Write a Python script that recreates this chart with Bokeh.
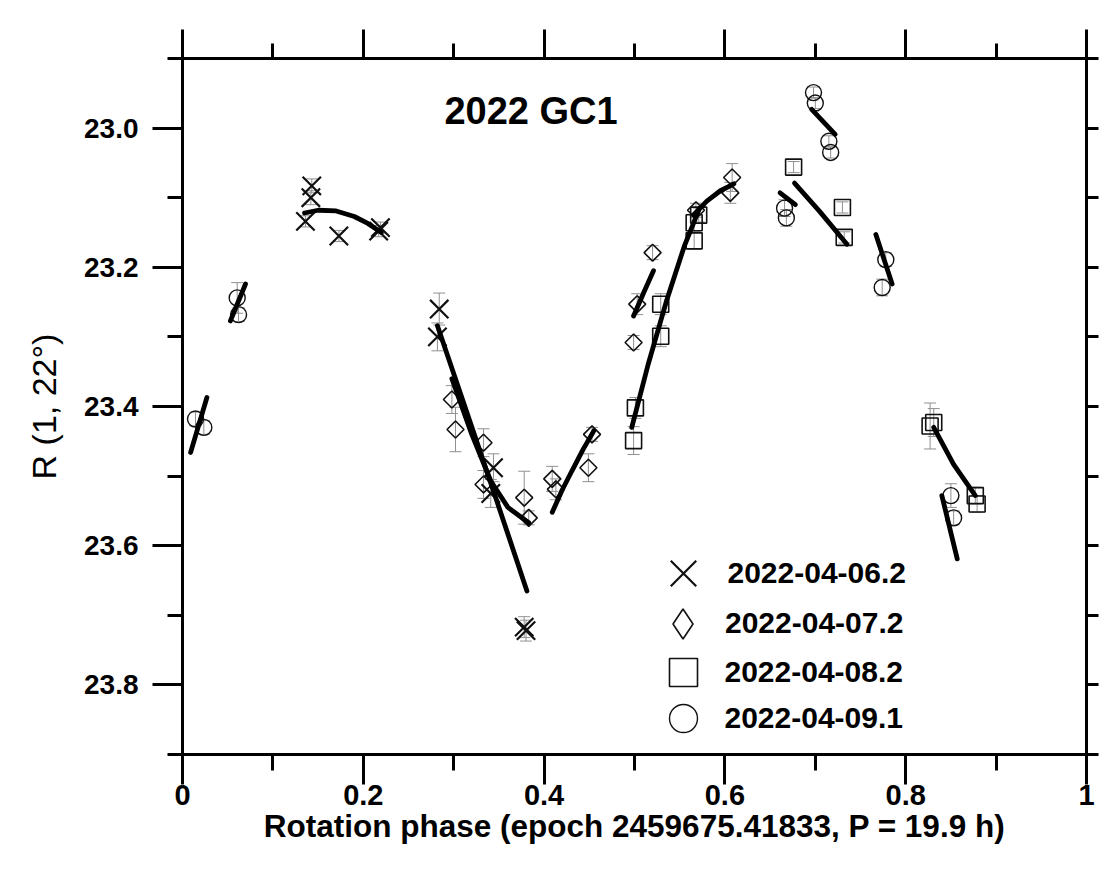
import numpy as np
from bokeh.plotting import figure
from bokeh.models import (Range1d, FixedTicker, LinearAxis, Legend, LegendItem, Label,
                          Whisker, TeeHead, ColumnDataSource, PrintfTickFormatter)
from bokeh.embed import file_html
from bokeh.resources import INLINE

# ---------------- data ----------------
dates = ["2022-04-06.2", "2022-04-07.2", "2022-04-08.2", "2022-04-09.1"]

phase_0406 = [0.143, 0.142, 0.136, 0.173, 0.217, 0.219, 0.284, 0.282, 0.344, 0.341, 0.378, 0.380]
mag_0406 = [23.083, 23.100, 23.134, 23.155, 23.148, 23.143, 23.260, 23.300, 23.488, 23.525, 23.717, 23.722]
err_0406 = [0.010, 0.010, 0.008, 0.008, 0.008, 0.008, 0.023, 0.020, 0.020, 0.020, 0.015, 0.015]

phase_0407 = [0.298, 0.302, 0.333, 0.333, 0.378, 0.383, 0.409, 0.413, 0.449, 0.453,
              0.499, 0.503, 0.520, 0.568, 0.606, 0.608]
mag_0407 = [23.390, 23.433, 23.452, 23.512, 23.531, 23.560, 23.504, 23.519, 23.488, 23.440,
            23.308, 23.253, 23.179, 23.118, 23.093, 23.071]
err_0407 = [0.020, 0.032, 0.020, 0.020, 0.038, 0.010, 0.018, 0.015, 0.020, 0.010,
            0.010, 0.015, 0.010, 0.010, 0.015, 0.020]

phase_0408 = [0.499, 0.501, 0.529, 0.529, 0.566, 0.566, 0.571, 0.676, 0.730, 0.732, 0.827, 0.831, 0.877, 0.879]
mag_0408 = [23.449, 23.402, 23.299, 23.253, 23.162, 23.136, 23.125, 23.056, 23.114, 23.157, 23.428, 23.423, 23.528, 23.540]
err_0408 = [0.020, 0.015, 0.015, 0.015, 0.012, 0.012, 0.010, 0.008, 0.008, 0.008, 0.033, 0.020, 0.012, 0.012]

phase_0409 = [0.0144, 0.0236, 0.0605, 0.062, 0.666, 0.668, 0.698, 0.700, 0.715, 0.717, 0.774, 0.778, 0.850, 0.853]
mag_0409 = [23.418, 23.430, 23.244, 23.268, 23.115, 23.129, 22.949, 22.964, 23.019, 23.035, 23.229, 23.189, 23.528, 23.560]
err_0409 = [0.010, 0.010, 0.022, 0.010, 0.012, 0.012, 0.008, 0.008, 0.008, 0.008, 0.012, 0.010, 0.017, 0.010]

# fitted segments (phase list, magnitude list)
fit_0406 = [([0.135, 0.150, 0.170, 0.190, 0.205, 0.220], [23.122, 23.118, 23.119, 23.127, 23.137, 23.150]),
            ([0.282, 0.315, 0.348, 0.381], [23.284, 23.410, 23.537, 23.665])]
fit_0407 = [([0.298, 0.320, 0.341, 0.360, 0.383], [23.360, 23.440, 23.507, 23.545, 23.567]),
            ([0.409, 0.420, 0.431, 0.443, 0.455], [23.552, 23.520, 23.492, 23.462, 23.435]),
            ([0.499, 0.510, 0.521], [23.270, 23.237, 23.205]),
            ([0.565, 0.580, 0.595, 0.610], [23.125, 23.105, 23.090, 23.080])]
fit_0408 = [([0.497, 0.515, 0.535, 0.555, 0.572], [23.430, 23.340, 23.250, 23.170, 23.115]),
            ([0.677, 0.705, 0.735], [23.079, 23.120, 23.167]),
            ([0.831, 0.853, 0.877], [23.430, 23.483, 23.528])]
fit_0409 = [([0.009, 0.027], [23.466, 23.387]),
            ([0.053, 0.0697], [23.277, 23.224]),
            ([0.661, 0.678], [23.093, 23.110]),
            ([0.696, 0.722], [22.973, 23.009]),
            ([0.767, 0.785], [23.153, 23.224]),
            ([0.840, 0.857], [23.528, 23.619])]

x_ticks = [0, 0.2, 0.4, 0.6, 0.8, 1.0]
x_minor = [0.1, 0.3, 0.5, 0.7, 0.9]
y_ticks = [23.0, 23.2, 23.4, 23.6, 23.8]
y_minor = [22.9, 23.1, 23.3, 23.5, 23.7, 23.9]

title_text = "2022 GC1"
x_label = "Rotation phase (epoch 2459675.41833, P = 19.9 h)"
y_label = "R (1, 22\u00b0)"

# ---------------- figure ----------------
FONT = "Liberation Sans"
p = figure(width=1100, height=883, x_range=Range1d(0, 1), y_range=Range1d(23.9, 22.9),
           output_backend="svg", toolbar_location=None,
           min_border_left=182, min_border_right=14, min_border_top=58, min_border_bottom=129)
p.grid.visible = False
p.outline_line_color = "black"
p.outline_line_width = 3
p.background_fill_color = "white"
p.border_fill_color = "white"

xt = FixedTicker(ticks=x_ticks, minor_ticks=x_minor)
yt = FixedTicker(ticks=y_ticks, minor_ticks=y_minor)


def style_axis(ax, major_out, minor_out):
    ax.axis_line_width = 3
    ax.axis_line_color = "black"
    ax.major_tick_line_width = 3
    ax.minor_tick_line_width = 3
    ax.major_tick_line_color = "black"
    ax.minor_tick_line_color = "black"
    ax.major_tick_in = 0
    ax.minor_tick_in = 0
    ax.major_tick_out = major_out
    ax.minor_tick_out = minor_out
    ax.major_label_text_color = "black"
    ax.axis_label_text_color = "black"


xa = p.xaxis[0]
xa.ticker = xt
style_axis(xa, 30, 16)
xa.axis_label = x_label
xa.axis_label_text_font = FONT
xa.axis_label_text_font_style = "bold"
xa.axis_label_text_font_size = "31.5px"
xa.axis_label_standoff = 0
xa.major_label_text_font = FONT
xa.major_label_text_font_style = "bold"
xa.major_label_text_font_size = "29px"
xa.major_label_standoff = 0

ya = p.yaxis[0]
ya.ticker = yt
ya.formatter = PrintfTickFormatter(format="%.1f")
style_axis(ya, 30, 15)
ya.axis_label = y_label
ya.axis_label_text_font = FONT
ya.axis_label_text_font_style = "normal"
ya.axis_label_text_font_size = "34px"
ya.axis_label_standoff = 18
ya.major_label_text_font = FONT
ya.major_label_text_font_style = "bold"
ya.major_label_text_font_size = "28px"
ya.major_label_standoff = 14

top = LinearAxis(ticker=xt)
style_axis(top, 29, 15)
top.major_label_text_color = None
top.major_label_text_font_size = "1px"
top.major_label_standoff = 0
p.add_layout(top, "above")

right = LinearAxis(ticker=yt)
style_axis(right, 12, 12)
right.major_label_text_color = None
right.major_label_text_font_size = "1px"
right.major_label_standoff = 0
p.add_layout(right, "right")

# ---------------- error bars ----------------
ERR_COLOR = "#909090"
for ph, mg, er in [(phase_0406, mag_0406, err_0406), (phase_0407, mag_0407, err_0407),
                   (phase_0408, mag_0408, err_0408), (phase_0409, mag_0409, err_0409)]:
    src = ColumnDataSource(dict(x=ph, upper=[m - e for m, e in zip(mg, er)],
                                lower=[m + e for m, e in zip(mg, er)]))
    w = Whisker(base="x", upper="upper", lower="lower", source=src, dimension="height",
                line_color=ERR_COLOR, line_width=1,
                upper_head=TeeHead(size=12, line_color=ERR_COLOR, line_width=1),
                lower_head=TeeHead(size=12, line_color=ERR_COLOR, line_width=1))
    p.add_layout(w)

# ---------------- markers ----------------
MK = "#111111"
r_x = p.scatter(phase_0406, mag_0406, marker="x", size=26, line_color=MK, line_width=2.2)
r_d = p.scatter(phase_0407, mag_0407, marker="square", angle=np.pi / 4, size=12, line_color=MK,
                line_width=1.6, fill_color=None)
r_s = p.scatter(phase_0408, mag_0408, marker="square", size=16, line_color=MK, line_width=1.6, fill_color=None)
r_c = p.scatter(phase_0409, mag_0409, marker="circle", size=16, line_color=MK, line_width=1.4, fill_color=None)
# hidden twin used only for the legend symbol (legend markers are drawn unrotated)
r_d_leg = p.scatter(phase_0407, mag_0407, marker="diamond", line_color=MK, line_width=1.6,
                    fill_color=None, visible=False)

# ---------------- fits ----------------
for fits in (fit_0406, fit_0407, fit_0408, fit_0409):
    for fx, fy in fits:
        p.line(fx, fy, line_color="black", line_width=4.8, line_cap="round")

# ---------------- title label ----------------
p.add_layout(Label(x=0.3855, y=22.9756, text=title_text, text_font=FONT, text_color="black",
                   text_font_style="bold", text_font_size="38px",
                   text_align="center", text_baseline="middle"))

# ---------------- legend (one block per entry) ----------------
legend_specs = [  # renderer, glyph box, location, standoff
    (r_x, 90, (455.5, 135.7), 0),
    (r_d_leg, 75, (463.0, 93.5), 5),
    (r_s, 70, (465.5, 47.3), 7),
    (r_c, 70, (465.5, 0.7), 7),
]
for (rend, gbox, loc, stand), lab in zip(legend_specs, dates):
    lg = Legend(items=[LegendItem(label=lab, renderers=[rend])],
                location=loc, orientation="vertical",
                glyph_width=gbox, glyph_height=gbox, label_height=20,
                padding=0, margin=0, spacing=0, label_standoff=stand,
                border_line_color=None, background_fill_alpha=0,
                inactive_fill_alpha=0, click_policy="none",
                label_text_font=FONT, label_text_font_style="bold", label_text_font_size="30px",
                label_text_color="black")
    p.add_layout(lg)

open("out.html", "w").write(file_html(p, INLINE, "2022 GC1"))
